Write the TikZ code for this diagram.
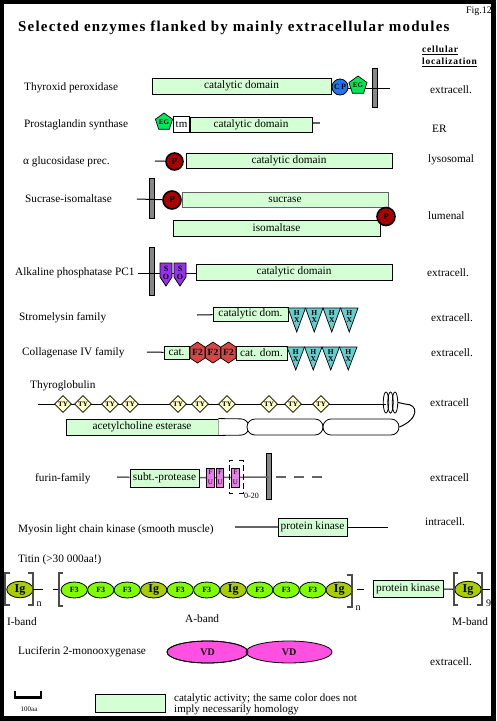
\documentclass[tikz,border=0pt]{standalone}
\usepackage{fontspec}
\setmainfont{Liberation Serif}
\newfontfamily\spacedfont[LetterSpace=8]{Liberation Serif}
\usetikzlibrary{shapes.geometric}
\definecolor{catg}{RGB}{212,255,212}
\definecolor{cpblue}{RGB}{30,120,235}
\definecolor{egreen}{RGB}{0,230,90}
\definecolor{pred}{RGB}{170,0,0}
\definecolor{sopurple}{RGB}{150,50,235}
\definecolor{hxteal}{RGB}{100,205,205}
\definecolor{ftwored}{RGB}{215,70,70}
\definecolor{tyyellow}{RGB}{255,255,195}
\definecolor{fupink}{RGB}{235,125,235}
\definecolor{fthree}{RGB}{128,255,0}
\definecolor{igolive}{RGB}{170,205,0}
\definecolor{vdmag}{RGB}{255,80,225}
\definecolor{memgray}{RGB}{135,135,135}
\definecolor{lgray}{RGB}{100,100,100}
\newcommand\myfs[1]{\fontsize{#1}{#1}\selectfont}
\pgfdeclarelayer{background}
\pgfsetlayers{background,main}
\tikzset{
  lbl/.style={font=\myfs{11.3}, inner sep=0pt, anchor=west},
  catbox/.style={draw=black, fill=catg, line width=0.9pt, inner sep=0pt, font=\myfs{11.3}},
  membar/.style={draw=black, fill=memgray, line width=0.8pt},
  conn/.style={line width=1pt, black},
  gconn/.style={line width=1.5pt, lgray},
  pcirc/.style={circle, draw=black, line width=1.6pt, fill=pred, minimum size=16pt, inner sep=0pt, font=\bfseries\myfs{9}},
  egpent/.style={regular polygon, regular polygon sides=5, draw=black, line width=0.7pt, fill=egreen, minimum size=19pt, inner sep=0pt, font=\bfseries\myfs{7}},
  tydia/.style={diamond, draw=black, line width=0.7pt, fill=tyyellow, minimum width=17pt, minimum height=17pt, inner sep=0pt, font=\bfseries\myfs{7}},
  igell/.style={ellipse, draw=black, line width=0.8pt, fill=igolive, minimum width=26.5pt, minimum height=16.5pt, inner sep=0pt, font=\bfseries\myfs{12}},
  f3ell/.style={ellipse, draw=black, line width=0.8pt, fill=fthree, minimum width=26.5pt, minimum height=16pt, inner sep=0pt, font=\bfseries\myfs{8}},
  brk/.style={line width=1.3pt, draw=gray!60!black},
  vdell/.style={ellipse, draw=black, line width=0.8pt, fill=vdmag, minimum height=22pt, inner sep=0pt, font=\bfseries\myfs{10}},
  letter/.style={inner sep=0pt, font=\bfseries\myfs{7.5}},
}
\begin{document}
\begin{tikzpicture}[x=1pt,y=-1pt]
\useasboundingbox (0,0) rectangle (496,721);
\begin{pgfonlayer}{background}
\fill[black] (0,0) rectangle (496,721);
\fill[white] (4,4) rectangle (491,716);
% membrane bars
\draw[membar] (372,68) rectangle (377,107);
\draw[membar] (149,178) rectangle (154,218);
\draw[membar] (149,247) rectangle (154,295);
\draw[membar] (266,453) rectangle (271,499);
\end{pgfonlayer}

% header
\node[font=\myfs{10}, inner sep=0pt] (fig) at (479,11) {Fig.12};
\node[font=\spacedfont\bfseries\myfs{15}, inner sep=0pt, anchor=west] (title) at (18,28) {Selected enzymes flanked by mainly extracellular modules};
\node[font=\spacedfont\bfseries\myfs{9.5}, inner sep=0pt, anchor=west] (cell1) at (422,50) {\underline{cellular}};
\node[font=\spacedfont\bfseries\myfs{9.5}, inner sep=0pt, anchor=west] (cell2) at (422,62) {\underline{localization}};

% row 1
\node[lbl] (thy) at (24,88) {Thyroxid peroxidase};
\node[catbox, minimum width=179pt, minimum height=16pt] (thycat) at (241.5,86) {catalytic domain};
\node[circle, draw=black, line width=0.8pt, fill=cpblue, minimum size=16pt, inner sep=0pt, font=\bfseries\myfs{8}] (thycp) at (340,87) {C\,P};
\node[egpent] (thyeg) at (358,85.5) {EG};
\coordinate (thyend) at (390,88);
\begin{pgfonlayer}{background}
\draw[conn] (thycat.east |- thyend) -- (thyend);
\end{pgfonlayer}
\node[lbl] (loc1) at (430,90) {extracell.};

% row 2
\node[lbl] (pro) at (24,125) {Prostaglandin synthase};
\node[egpent, minimum size=18pt] (proeg) at (164,122) {EG};
\node[draw=black, fill=white, line width=0.8pt, minimum width=16pt, minimum height=16pt, inner sep=0pt, font=\myfs{11}] (protm) at (181.5,124) {tm};
\node[catbox, minimum width=122pt, minimum height=15pt] (procat) at (251,124.5) {catalytic domain};
\coordinate (proend) at (320,123);
\begin{pgfonlayer}{background}
\draw[gconn] (procat.east |- proend) -- (proend);
\end{pgfonlayer}
\node[lbl] (loc2) at (432,129) {ER};

% row 3
\node[lbl] (agl) at (23,162) {α glucosidase prec.};
\coordinate (aglstart) at (155,161);
\node[pcirc, minimum size=17pt] (aglp) at (174.5,161.5) {P};
\node[catbox, minimum width=206pt, minimum height=15pt] (aglcat) at (289,160.5) {catalytic domain};
\begin{pgfonlayer}{background}
\draw[gconn] (aglstart) -- (aglp);
\end{pgfonlayer}
\node[lbl] (loc3) at (428,160) {lysosomal};

% row 4
\node[lbl] (suc) at (25,199) {Sucrase-isomaltase};
\coordinate (sucstart) at (137,199);
\node[pcirc, minimum size=18pt] (sucp1) at (172,200) {P};
\node[catbox, draw=lgray, minimum width=206pt, minimum height=15pt] (sucbox) at (285,199.5) {sucrase};
\node[catbox, minimum width=207pt, minimum height=16pt] (isobox) at (276.5,228) {isomaltase};
\node[pcirc, minimum size=18pt] (sucp2) at (386,216.5) {P};
\begin{pgfonlayer}{background}
\draw[conn] (sucstart) -- (sucp1);
\end{pgfonlayer}
\node[lbl] (loc4) at (428,216) {lumenal};

% row 5
\node[lbl] (alk) at (15,273) {Alkaline phosphatase PC1};
\coordinate (alkstart) at (138,273);
\foreach \n/\x in {1/160,2/174}{
  \filldraw[draw=black, fill=sopurple, line width=0.7pt] (\x,263) -- ++(12,0) -- ++(0,14) -- ++(-6,9) -- ++(-6,-9) -- cycle;
  \node[letter, font=\bfseries\myfs{8}] (soS\n) at (\x+6,268.5) {S};
  \node[letter, font=\bfseries\myfs{8}] (soO\n) at (\x+6,277) {O};
}
\node[catbox, minimum width=196pt, minimum height=16pt] (alkcat) at (294,272) {catalytic domain};
\begin{pgfonlayer}{background}
\draw[conn] (alkstart) -- (alkcat.west |- alkstart);
\end{pgfonlayer}
\node[lbl] (loc5) at (427,273) {extracell.};

% row 6
\node[lbl] (str) at (19,318) {Stromelysin family};
\coordinate (strstart) at (197,315);
\node[catbox, minimum width=75pt, minimum height=14pt] (strcat) at (250.5,314) {catalytic dom.};
\foreach \n/\x in {1/288,2/305.5,3/323,4/340.5}{
  \filldraw[draw=black, fill=hxteal, line width=0.7pt] (\x,308) -- ++(17.5,0) -- ++(-8.75,24) -- cycle;
  \node[letter] (strH\n) at (\x+8.75,313) {H};
  \node[letter] (strX\n) at (\x+8.75,320.5) {X};
}
\begin{pgfonlayer}{background}
\draw[conn] (strstart) -- (strcat);
\end{pgfonlayer}
\node[lbl] (loc6) at (431,318) {extracell.};

% row 7
\node[lbl] (col) at (22,353) {Collagenase IV family};
\coordinate (colstart) at (147,352);
\node[catbox, minimum width=25pt, minimum height=13pt] (colcat1) at (176.5,352.5) {cat.};
\foreach \n/\x in {1/197.5,2/213,3/228.5}{
  \filldraw[draw=black, fill=ftwored, line width=0.7pt] (\x,342) -- (\x+7.5,347) -- (\x+7.5,358) -- (\x,363) -- (\x-7.5,358) -- (\x-7.5,347) -- cycle;
  \node[inner sep=0pt, font=\bfseries\myfs{9.5}] (ftwo\n) at (\x,352.5) {F2};
}
\node[catbox, minimum width=51pt, minimum height=14pt] (colcat2) at (261.5,353) {cat. dom.};
\foreach \n/\x in {1/287,2/304.5,3/322,4/339.5}{
  \filldraw[draw=black, fill=hxteal, line width=0.7pt] (\x,347) -- ++(17.5,0) -- ++(-8.75,23) -- cycle;
  \node[letter] (colH\n) at (\x+8.75,352) {H};
  \node[letter] (colX\n) at (\x+8.75,359.5) {X};
}
\begin{pgfonlayer}{background}
\draw[conn] (colstart) -- (colcat1);
\end{pgfonlayer}
\node[lbl] (loc7) at (431,353) {extracell.};

% row 8 thyroglobulin
\node[lbl] (tg) at (30,386) {Thyroglobulin};
\coordinate (tgstart) at (38,404);
\coordinate (tgcoil) at (386,404);
\foreach \n/\x in {1/63,2/83,3/110,4/130,5/178,6/200,7/227,8/269,9/293,10/321}
  \node[tydia] (ty\n) at (\x,404) {TY};
\begin{pgfonlayer}{background}
\draw[conn] (tgstart) -- (tgcoil);
\end{pgfonlayer}
\foreach \n/\x in {1/386,2/390.5,3/395}
  \node[ellipse, draw=black, line width=0.8pt, minimum width=5.5pt, minimum height=21pt, inner sep=0pt] (coil\n) at (\x,402.5) {};
\node[catbox, minimum width=152pt, minimum height=16pt] (ace) at (142,427) {acetylcholine esterase};
\draw[line width=0.8pt, fill=white, rounded corners=8pt] (ace.north east) -- (249,419) -- (249,435) -- (ace.south east);
\node[draw=black, line width=0.8pt, fill=white, rounded corners=8pt, minimum width=76pt, minimum height=16pt, inner sep=0pt] (st2) at (285,427) {};
\node[draw=black, line width=0.8pt, fill=white, rounded corners=8pt, minimum width=76pt, minimum height=16pt, inner sep=0pt] (st3) at (361,427) {};
\draw[conn] (coil3.east) -- (405,404) .. controls (419,404) and (419,419) .. (st3.east);
\node[lbl] (loc8) at (430,403) {extracell};

% row 9 furin
\node[lbl] (fur) at (35,479) {furin-family};
\coordinate (furstart) at (117,477);
\node[catbox, minimum width=69pt, minimum height=18pt] (furcat) at (164.5,478) {subt.-protease};
\foreach \n/\x in {1/210.5,2/220,3/235.5}{
  \node[draw=black, fill=fupink, line width=0.7pt, minimum width=7.5pt, minimum height=19pt, inner sep=0pt] (fu\n) at (\x,477.5) {};
  \node[inner sep=0pt, font=\myfs{7}] (fuF\n) at (\x,472.5) {F};
  \node[inner sep=0pt, font=\myfs{7}] (fuU\n) at (\x,482.5) {U};
}
\draw[line width=0.8pt, dash pattern=on 6pt off 3pt] (233,460) -| (229,493) -- (233,493);
\draw[line width=0.8pt, dash pattern=on 6pt off 3pt] (239,460) -| (243,493) -- (239,493);
\node[inner sep=0pt, anchor=west, font=\myfs{8}] (f020) at (244,496) {0-20};
\coordinate (furbar) at (268.5,477);
\coordinate (furdash) at (276,477);
\coordinate (furend) at (322,477);
\begin{pgfonlayer}{background}
\draw[gconn] (furstart) -- (furcat);
\draw[gconn] (furcat) -- (furbar);
\draw[gconn, dash pattern=on 10pt off 8pt] (furdash) -- (furend);
\end{pgfonlayer}
\node[lbl] (loc9) at (430,478) {extracell};

% row 10 myosin
\node[lbl] (myo) at (18,530) {Myosin light chain kinase (smooth muscle)};
\coordinate (myostart) at (235,527);
\node[catbox, minimum width=69pt, minimum height=18pt] (myopk) at (312.5,527) {protein kinase};
\coordinate (myoend) at (388,527);
\begin{pgfonlayer}{background}
\draw[gconn] (myostart) -- (myopk);
\draw[conn] (myopk) -- (myoend);
\end{pgfonlayer}
\node[lbl] (loc10) at (425,522) {intracell.};

% titin
\node[lbl] (tit) at (18,560) {Titin (>30 000aa!)};
\node[igell] (igI) at (20,589.5) {Ig};
\draw[brk] (10,573) -- (5,573) -- (5,605) -- (10,605);
\draw[brk] (28,573) -- (33,573) -- (33,605) -- (28,605);
\node[inner sep=0pt, font=\myfs{10}] (n1) at (39,604) {n};
\coordinate (c1a) at (33,589);
\coordinate (c1b) at (43,589);
\coordinate (c2a) at (53,589);
\coordinate (c2b) at (60,589);
\draw[conn] (c1a) -- (c1b);
\draw[conn] (c2a) -- (c2b);
\foreach \n/\s/\t/\x in {1/f3ell/F3/74.25,2/f3ell/F3/100.75,3/f3ell/F3/127.25,4/igell/Ig/153.75,5/f3ell/F3/180.25,6/f3ell/F3/206.75,7/igell/Ig/233.25,8/f3ell/F3/259.75,9/f3ell/F3/286.25,10/f3ell/F3/312.75,11/igell/Ig/339.25}
  \node[\s, minimum height=16pt] (ab\n) at (\x,590) {\t};
\draw[brk] (63,573) -- (59,573) -- (59,606) -- (63,606);
\draw[brk] (347,575) -- (352,575) -- (352,607) -- (347,607);
\node[inner sep=0pt, font=\myfs{10}] (n2) at (358,608) {n};
\coordinate (c3a) at (357,589);
\coordinate (c3b) at (364,589);
\draw[conn] (c3a) -- (c3b);
\node[catbox, minimum width=70pt, minimum height=17pt] (titpk) at (408,588.5) {protein kinase};
\node[igell] (igM) at (468,589.5) {Ig};
\begin{pgfonlayer}{background}
\draw[conn] (titpk) -- (igM);
\end{pgfonlayer}
\draw[brk] (458,573) -- (454,573) -- (454,605) -- (458,605);
\draw[brk] (477,573) -- (482,573) -- (482,605) -- (477,605);
\coordinate (c4a) at (482,589);
\coordinate (c4) at (490,589);
\draw[conn] (c4a) -- (c4);
\node[inner sep=0pt, font=\myfs{10}] (n3) at (488.5,603) {9};
\node[lbl] (iband) at (7,622) {I-band};
\node[lbl] (aband) at (185,619) {A-band};
\node[lbl] (mband) at (452,622) {M-band};

% luciferin
\node[lbl] (luc) at (18,652) {Luciferin 2-monooxygenase};
\node[vdell, minimum width=81pt] (vd1) at (207.5,652) {};
\node[vdell, minimum width=86pt] (vd2) at (289,652) {VD};
\node[vdell, fill=none, minimum width=81pt] (vd1b) at (207.5,652) {VD};
\node[lbl] (loc11) at (430,662) {extracell.};

% scale and legend
\draw[line width=2.5pt, line join=miter] (15,691) -- (15,697.5) -- (41,697.5) -- (41,691);
\node[inner sep=0pt, font=\myfs{7}] (sc) at (29,709) {100aa};
\node[catbox, minimum width=70pt, minimum height=18pt] (leg) at (130,703) {};
\node[inner sep=0pt, anchor=west, font=\myfs{11}] (legt1) at (174,699) {catalytic activity; the same color does not};
\node[inner sep=0pt, anchor=west, font=\myfs{11}] (legt2) at (174,709.5) {imply necessarily homology};
\end{tikzpicture}
\end{document}
